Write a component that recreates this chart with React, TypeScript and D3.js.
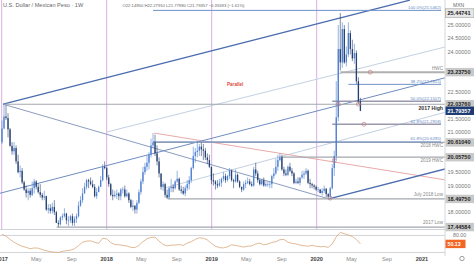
import React from "react";
import * as d3 from "d3";

const W = 474;
const H = 264;

// Weekly USD/MXN bars [open, high, low, close], weeks starting 2017-01-02
const bars2017: number[][] = [
  [20.62, 21.43, 20.55, 21.13], [21.13, 22.04, 21.10, 21.58], [21.58, 22.00, 21.45, 21.52], [21.52, 21.70, 20.80, 21.10],
  [21.10, 21.15, 20.45, 20.48], [20.48, 20.62, 20.15, 20.28], [20.28, 20.62, 20.15, 20.40], [20.40, 20.50, 19.80, 19.90],
  [19.90, 20.15, 19.45, 19.50], [19.50, 19.75, 19.30, 19.55], [19.55, 19.65, 19.05, 19.12], [19.12, 19.18, 18.80, 18.85],
  [18.85, 19.00, 18.55, 18.72], [18.72, 18.90, 18.45, 18.80], [18.80, 18.90, 18.55, 18.65], [18.65, 19.15, 18.60, 18.90],
  [18.90, 19.25, 18.70, 19.15], [19.15, 19.20, 18.85, 18.95], [18.95, 19.08, 18.70, 18.75], [18.75, 19.05, 18.55, 18.65],
  [18.65, 18.72, 18.45, 18.55], [18.55, 18.80, 18.45, 18.60], [18.60, 18.62, 18.05, 18.10], [18.10, 18.30, 17.95, 18.15],
  [18.15, 18.30, 17.95, 18.05], [18.05, 18.35, 17.95, 18.20], [18.20, 18.45, 17.90, 18.00], [18.00, 18.05, 17.60, 17.60],
  [17.60, 17.70, 17.45, 17.55], [17.55, 17.85, 17.50, 17.80], [17.80, 17.95, 17.70, 17.85], [17.85, 18.15, 17.80, 17.95],
  [17.95, 17.98, 17.55, 17.70], [17.70, 17.85, 17.48, 17.70], [17.70, 17.90, 17.60, 17.85], [17.85, 17.95, 17.50, 17.60],
  [17.60, 17.85, 17.48, 17.75], [17.75, 17.95, 17.60, 17.85], [17.85, 18.40, 17.80, 18.25], [18.25, 18.60, 18.20, 18.45],
  [18.45, 18.90, 18.35, 18.70], [18.70, 19.10, 18.70, 18.95], [18.95, 19.25, 18.85, 19.20], [19.20, 19.25, 18.90, 19.15],
  [19.15, 19.30, 19.00, 19.05], [19.05, 19.20, 18.90, 18.95], [18.95, 19.05, 18.55, 18.60], [18.60, 18.90, 18.50, 18.75],
  [18.75, 19.00, 18.80, 18.95], [18.95, 19.35, 18.95, 19.20], [19.20, 19.80, 19.15, 19.70], [19.70, 19.90, 19.60, 19.65],
];
const bars2018: number[][] = [
  [19.65, 19.70, 19.20, 19.30], [19.30, 19.40, 18.95, 19.05], [19.05, 19.10, 18.60, 18.65], [18.65, 18.85, 18.45, 18.60],
  [18.60, 18.80, 18.55, 18.65], [18.65, 18.85, 18.50, 18.70], [18.70, 18.75, 18.45, 18.60], [18.60, 18.90, 18.45, 18.85],
  [18.85, 18.95, 18.70, 18.85], [18.85, 19.00, 18.55, 18.60], [18.60, 18.85, 18.55, 18.70], [18.70, 18.75, 18.35, 18.45],
  [18.45, 18.50, 18.15, 18.20], [18.20, 18.45, 18.05, 18.25], [18.25, 18.25, 17.95, 18.10], [18.10, 18.45, 17.95, 18.35],
  [18.35, 18.85, 18.30, 18.75], [18.75, 19.25, 18.65, 19.15], [19.15, 19.70, 19.05, 19.50], [19.50, 19.85, 19.40, 19.70],
  [19.70, 20.10, 19.55, 19.85], [19.85, 20.25, 19.60, 20.15], [20.15, 20.75, 20.05, 20.50], [20.50, 20.96, 20.40, 20.61],
  [20.61, 20.90, 20.10, 20.20], [20.20, 20.50, 19.75, 19.90], [19.90, 20.05, 19.30, 19.45], [19.45, 19.45, 18.85, 18.95],
  [18.95, 19.15, 18.80, 19.05], [19.05, 19.10, 18.55, 18.65], [18.65, 18.85, 18.50, 18.55], [18.55, 18.95, 18.50, 18.90],
  [18.90, 19.25, 18.75, 18.95], [18.95, 19.05, 18.75, 18.90], [18.90, 19.20, 18.85, 19.15], [19.15, 19.55, 19.10, 19.25],
  [19.25, 19.30, 18.80, 18.85], [18.85, 19.00, 18.70, 18.80], [18.80, 18.95, 18.65, 18.70], [18.70, 19.00, 18.60, 18.90],
  [18.90, 19.20, 18.80, 19.05], [19.05, 19.35, 18.85, 19.20], [19.20, 19.70, 19.10, 19.65], [19.65, 20.45, 19.60, 20.10],
  [20.10, 20.40, 19.85, 20.25], [20.25, 20.65, 20.05, 20.30], [20.30, 20.55, 20.10, 20.45], [20.45, 20.60, 20.10, 20.35],
  [20.35, 20.55, 19.95, 20.30], [20.30, 20.40, 19.95, 20.05], [20.05, 20.20, 19.80, 19.95], [19.95, 20.15, 19.65, 19.70],
  [19.70, 19.70, 19.05, 19.20],
];
const bars2019: number[][] = [
  [19.20, 19.45, 19.00, 19.15], [19.15, 19.20, 18.85, 19.05], [19.05, 19.20, 18.90, 19.00], [19.00, 19.25, 18.95, 19.10],
  [19.10, 19.30, 18.95, 19.25], [19.25, 19.50, 19.15, 19.35], [19.35, 19.45, 19.10, 19.20], [19.20, 19.40, 19.15, 19.35],
  [19.35, 19.65, 19.25, 19.55], [19.55, 19.60, 19.15, 19.20], [19.20, 19.25, 18.90, 19.15], [19.15, 19.60, 19.10, 19.40],
  [19.40, 19.45, 19.10, 19.15], [19.15, 19.20, 18.90, 18.95], [18.95, 18.95, 18.75, 18.85], [18.85, 19.15, 18.80, 19.05],
  [19.05, 19.20, 18.90, 19.10], [19.10, 19.30, 19.05, 19.15], [19.15, 19.25, 19.00, 19.05], [19.05, 19.15, 18.95, 19.00],
  [19.00, 19.70, 18.95, 19.60], [19.60, 19.85, 19.35, 19.45], [19.45, 19.55, 19.10, 19.20], [19.20, 19.25, 19.00, 19.05],
  [19.05, 19.25, 19.00, 19.20], [19.20, 19.30, 18.95, 19.00], [19.00, 19.15, 18.95, 19.05], [19.05, 19.15, 18.95, 19.05],
  [19.05, 19.15, 18.90, 19.05], [19.05, 19.40, 18.90, 19.35], [19.35, 19.65, 19.25, 19.45], [19.45, 20.00, 19.40, 19.70],
  [19.70, 20.15, 19.55, 19.95], [19.95, 20.20, 19.90, 20.06], [20.06, 20.15, 19.55, 19.60], [19.60, 19.70, 19.35, 19.45],
  [19.45, 19.60, 19.35, 19.40], [19.40, 19.75, 19.35, 19.70], [19.70, 19.85, 19.50, 19.55], [19.55, 19.65, 19.35, 19.45],
  [19.45, 19.50, 19.05, 19.10], [19.10, 19.25, 19.05, 19.15], [19.15, 19.30, 19.05, 19.10], [19.10, 19.30, 19.00, 19.30],
  [19.30, 19.55, 19.25, 19.40], [19.40, 19.55, 19.25, 19.45], [19.45, 19.65, 19.40, 19.55], [19.55, 19.60, 19.05, 19.10],
  [19.10, 19.25, 18.90, 19.05], [19.05, 19.10, 18.90, 19.00], [19.00, 19.05, 18.85, 18.95], [18.95, 19.00, 18.80, 18.85],
];
const bars2020: number[][] = [
  [18.85, 18.95, 18.75, 18.85], [18.85, 18.87, 18.70, 18.72], [18.72, 18.90, 18.62, 18.80], [18.80, 19.00, 18.72, 18.88],
  [18.88, 18.90, 18.55, 18.68], [18.68, 18.72, 18.53, 18.58], [18.58, 18.95, 18.50, 18.90], [18.90, 19.80, 18.85, 19.65],
  [19.65, 20.30, 19.35, 20.10], [20.10, 22.90, 19.95, 21.55], [21.55, 25.00, 21.40, 24.10], [24.10, 25.45, 23.30, 23.60],
  [23.60, 25.10, 23.40, 24.85], [24.85, 25.00, 23.55, 23.60], [23.60, 24.20, 23.45, 23.90], [23.90, 25.10, 23.80, 24.70],
  [24.70, 24.80, 23.90, 24.10], [24.10, 24.45, 23.65, 23.75], [23.75, 24.30, 23.55, 23.95], [23.95, 24.05, 22.80, 22.90],
  [22.90, 23.05, 22.05, 22.15], [22.1495, 22.2791, 21.7798, 21.79357],
];

// RSI(14) read every second week from the lower pane; last value is the current one
const rsiEvery2Weeks: number[] = [
  84, 78, 66, 56, 48, 42, 38, 33, 36, 35, 30, 26, 23, 21, 20, 24, 26, 28, 33, 44,
  56, 60, 61, 56, 52, 70, 68, 55, 48, 47, 45, 43, 38, 37, 45, 58, 68, 73, 74, 60,
  48, 43, 46, 46, 48, 45, 53, 58, 66, 72, 70, 64, 52, 42, 37, 36, 40, 47, 45, 42,
  39, 42, 43, 50, 53, 47, 50, 55, 58, 65, 66, 56, 52, 50, 46, 44, 42, 45, 42, 40,
  41, 38, 50, 75, 91, 86, 82, 76, 66, 50.13,
];

// Trendline anchors: [date, price]
const upperChannel: [string, number][] = [["2017-01-06", 22.04], ["2020-11-20", 25.93]];
const descendingLine: [string, number][] = [["2017-01-06", 22.04], ["2020-02-12", 18.5]];
const lowerChannel: [string, number][] = [["2020-02-12", 18.5], ["2021-03-23", 19.62]];
const middleParallel: [string, number][] = [["2016-12-26", 18.71], ["2021-03-23", 23.03]];
const parallelUpper: [string, number][] = [["2018-01-01", 21.0], ["2021-03-23", 24.18]];
const parallelLower: [string, number][] = [["2018-07-22", 18.91], ["2021-03-23", 21.74]];
const pinkLine: [string, number][] = [["2018-06-15", 20.96], ["2021-03-23", 19.21]];

// Horizontal levels: [label, price, start date]
const keyLevels: [string, number, string][] = [
  ["2017 High", 22.0376, "2017-01-09"],
  ["2017 Low", 17.44584, "2017-07-11"],
  ["July 2018 Low", 18.4975, "2018-08-01"],
  ["2018 HWC", 20.6104, "2018-06-11"],
  ["2019 HWC", 20.0575, "2019-09-01"],
  ["HWC", 23.2375, "2020-03-23"],
];
const fibLevels: [string, number, string][] = [
  ["100.0%(25.5462)", 25.5462, "2018-06-11"],
  ["38.2%(22.7815)", 22.7815, "2020-04-20"],
  ["50.0%(22.1507)", 22.1507, "2020-02-24"],
  ["61.8%(21.2918)", 21.2918, "2020-02-24"],
  ["61.8%(20.6295)", 20.6295, "2018-06-11"],
];
const markers: [string, number][] = [
  ["2020-03-16", 22.04], ["2020-05-25", 22.04], ["2020-06-13", 21.29],
  ["2020-07-05", 23.2375], ["2020-03-02", 19.93], ["2020-02-17", 18.53],
];

const priceTicks = [17.5, 18, 18.5, 19, 19.5, 20, 20.5, 21, 21.5, 22, 22.5, 23, 23.5, 24, 24.5, 25, 25.5];
const priceTags: [number, string][] = [
  [25.44741, "light"], [23.2375, "gray"], [22.0376, "gray"], [21.79357, "last"],
  [20.6104, "gray"], [20.0575, "gray"], [18.4975, "gray"], [17.44584, "gray"],
];
const timeTicks: [string, string][] = [
  ["2017-01-01", "2017"], ["2017-05-01", "May"], ["2017-09-01", "Sep"],
  ["2018-01-01", "2018"], ["2018-05-01", "May"], ["2018-09-01", "Sep"],
  ["2019-01-01", "2019"], ["2019-05-01", "May"], ["2019-09-01", "Sep"],
  ["2020-01-01", "2020"], ["2020-05-01", "May"], ["2020-09-01", "Sep"],
  ["2021-01-01", "2021"],
];
const yearLines = ["2017-01-01", "2018-01-01", "2019-01-01", "2020-01-01"];
const rsiLevels = [80, 20];

const FONT = "'Liberation Sans', Arial, sans-serif";
const PLOT_R = 445;
const PRICE_B = 229.5;

export default function App() {
  const d = (s: string) => new Date(s + "T00:00:00Z");
  const x = d3.scaleUtc().domain([d("2017-01-01"), d("2020-01-01")]).range([1.7, 316.7]);
  const y = d3.scaleLinear().domain([18, 25]).range([212.25, 25]);
  const ry = d3.scaleLinear().domain([0, 100]).range([258.1, 229.8]);

  const start = d("2017-01-02").getTime();
  const all = [...bars2017, ...bars2018, ...bars2019, ...bars2020];
  const bars = all.map((b, i) => ({ t: new Date(start + i * 7 * 864e5), o: b[0], h: b[1], l: b[2], c: b[3] }));

  const rsiPts = rsiEvery2Weeks.map((v, j) => [x(new Date(start + j * 14 * 864e5)), ry(v)] as [number, number]);
  const rsiPath = d3.line()(rsiPts) || "";

  const seg = (a: [string, number][]) => ({ x1: x(d(a[0][0])), y1: y(a[0][1]), x2: x(d(a[1][0])), y2: y(a[1][1]) });
  const lines: { a: [string, number][]; c: string; w: number }[] = [
    { a: parallelUpper, c: "#c3d0e2", w: 1 },
    { a: parallelLower, c: "#c3d0e2", w: 1 },
    { a: pinkLine, c: "#e9a9a9", w: 1 },
    { a: descendingLine, c: "#8b9dbf", w: 1 },
    { a: middleParallel, c: "#6f8cc0", w: 1 },
    { a: upperChannel, c: "#4b6cae", w: 1.3 },
    { a: lowerChannel, c: "#4b6cae", w: 1.3 },
  ];
  const visibleTicks = priceTicks.filter((v) => priceTags.every(([t]) => Math.abs(y(v) - y(t)) > 7.5));

  const bw = 1.3;
  return (
    <svg width={W} height={H} style={{ position: "absolute", left: 0, top: 0, background: "#fff" }} fontFamily={FONT}>
      <defs>
        <clipPath id="pp"><rect x={0} y={0} width={PLOT_R} height={PRICE_B} /></clipPath>
        <clipPath id="rp"><rect x={0} y={PRICE_B} width={PLOT_R} height={256 - PRICE_B} /></clipPath>
      </defs>
      <rect x={0} y={0} width={W} height={H} fill="#fff" />
      <g clipPath="url(#pp)">
        {yearLines.map((s) => (
          <line key={s} x1={x(d(s))} x2={x(d(s))} y1={0} y2={PRICE_B} stroke="#dcaee6" strokeWidth={1} />
        ))}
        {lines.map((l, i) => {
          const s = seg(l.a);
          return <line key={i} {...s} stroke={l.c} strokeWidth={l.w} />;
        })}
        {keyLevels.map(([lab, v, s]) => (
          <line key={lab} x1={x(d(s))} x2={PLOT_R} y1={y(v)} y2={y(v)} stroke={lab === "HWC" ? "#b0b0b0" : "#a3a7ae"} strokeWidth={lab === "HWC" ? 2 : 1.2} />
        ))}
        {fibLevels.map(([lab, v, s]) => {
          const gray = lab.startsWith("50.0") || lab.startsWith("61.8%(21");
          return <line key={lab} x1={x(d(s))} x2={441} y1={y(v)} y2={y(v)} stroke={gray ? "#9a98ad" : "#6f92c9"} strokeWidth={gray ? 1.4 : 1} />;
        })}
        {bars.map((b, i) => {
          const up = b.c >= b.o;
          const col = up ? "#4d7fd1" : "#26406f";
          const cx = x(b.t);
          const top = y(Math.max(b.o, b.c));
          const bot = y(Math.min(b.o, b.c));
          return (
            <g key={i}>
              <line x1={cx} x2={cx} y1={y(b.h)} y2={y(b.l)} stroke={col} strokeWidth={0.6} />
              <rect x={cx - bw / 2} y={top} width={bw} height={Math.max(0.6, bot - top)} fill={col} />
            </g>
          );
        })}
        {markers.map(([s, v], i) => (
          <circle key={i} cx={x(d(s))} cy={y(v)} r={2} fill="none" stroke="#c97b7b" strokeWidth={0.7} />
        ))}
        <text x={227} y={86} fontSize={4.6} fontWeight="bold" fill="#e04a3c">Parallel</text>
        {keyLevels.map(([lab, v]) => {
          const isHigh = lab === "2017 High";
          const dy = isHigh ? 5.5 : lab === "HWC" ? -2.5 : lab === "2017 Low" || lab === "July 2018 Low" ? -3 : 5;
          return (
            <text key={lab} x={443} y={y(v) + dy} fontSize={isHigh ? 5.2 : 4.6} textAnchor="end" fill={isHigh ? "#333" : "#888"} fontWeight={isHigh ? "bold" : "normal"}>{lab}</text>
          );
        })}
        {fibLevels.map(([lab, v]) => (
          <text key={lab} x={441} y={y(v) - 1.6} fontSize={4.3} textAnchor="end" fill="#5f86c4">{lab}</text>
        ))}
      </g>

      {/* RSI pane */}
      <line x1={0} x2={W} y1={PRICE_B} y2={PRICE_B} stroke="#cfd3d8" strokeWidth={1} />
      {rsiLevels.map((v) => (
        <line key={v} x1={0} x2={PLOT_R} y1={ry(v)} y2={ry(v)} stroke="#c6c9ce" strokeWidth={0.8} />
      ))}
      <g clipPath="url(#rp)">
        <path d={rsiPath} fill="none" stroke="#d9a77b" strokeWidth={0.8} />
      </g>

      {/* price axis */}
      <line x1={PLOT_R} x2={PLOT_R} y1={0} y2={256} stroke="#d4d7db" strokeWidth={1} />
      <text x={453} y={7} fontSize={5} fill="#666">MXN</text>
      {visibleTicks.map((v) => (
        <text key={v} x={447.5} y={y(v) + 2} fontSize={5.5} fill="#777">{v.toFixed(5)}</text>
      ))}
      {priceTags.map(([v, kind]) => {
        const fill = kind === "last" ? "#1e3a73" : kind === "light" ? "#e6e6e6" : "#c9c9c9";
        const tc = kind === "last" ? "#fff" : "#222";
        return (
          <g key={v}>
            <rect x={445.5} y={y(v) - 4.2} width={28.5} height={8.4} fill={fill} stroke={kind === "light" ? "#888" : "none"} strokeWidth={0.5} />
            <text x={447.5} y={y(v) + 2} fontSize={5.5} fontWeight="bold" fill={tc}>{v.toFixed(5)}</text>
          </g>
        );
      })}
      <text x={453} y={ry(80) + 2} fontSize={5.3} fill="#777">80.00</text>
      <rect x={445.5} y={ry(50.13) - 4.2} width={20} height={8.4} fill="#f26522" />
      <text x={447.5} y={ry(50.13) + 2} fontSize={5.3} fontWeight="bold" fill="#fff">50.13</text>

      {/* time axis */}
      {timeTicks.map(([s, lab]) => (
        <text key={s} x={x(d(s))} y={260.5} fontSize={5.6} textAnchor="middle" fill={/^\d+$/.test(lab) ? "#444" : "#888"} fontWeight={/^\d+$/.test(lab) ? "bold" : "normal"}>{lab}</text>
      ))}
      <circle cx={462} cy={258.5} r={2.2} fill="none" stroke="#888" strokeWidth={0.8} />

      {/* header */}
      <text x={3} y={7.3} fontSize={5.6} fill="#666">U.S. Dollar / Mexican Peso · 1W</text>
      <text x={122.5} y={7.3} fontSize={4.2} fill="#666">O22.14950 H22.27910 L21.77980 C21.79357 −0.35593 (−1.61%)</text>
    </svg>
  );
}
